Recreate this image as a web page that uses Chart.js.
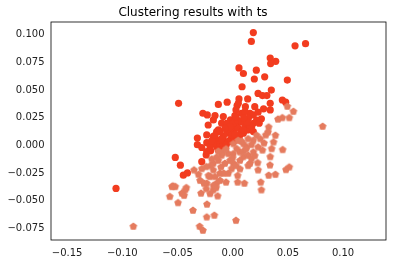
<!DOCTYPE html>
<html>
<head>
<meta charset="utf-8">
<script src="https://cdn.jsdelivr.net/npm/chart.js@4"></script>
<style>
  html, body { margin: 0; padding: 0; background: #fff; }
  #wrap { width: 393px; height: 264px; }
</style>
</head>
<body>
<div id="wrap"><canvas id="grafico"></canvas></div>
<script>
// cluster 1 (red circles)
var redX = [0.0187, 0.0169, 0.0565, 0.066, 0.034, 0.039, 0.0344, 0.0057, 0.0097, 0.0214, 0.0196, 0.029, 0.0495, 0.0085,
  0.035, 0.023, 0.027, 0.031, 0.045, 0.048, -0.049, -0.005, 0.0057, 0.0136, 0.034, -0.013, -0.027, -0.023, -0.016,
  0.004, 0.0115, 0.020, 0.034, 0.0157, -0.0085, -0.002, 0.026, -0.013, -0.0054, -0.0175, -0.010, 0.002, 0.0066, 0.0127,
  -0.032, -0.0235, -0.0175, -0.032, -0.0235, -0.028, -0.024, -0.052, -0.0474, -0.0447, -0.041, -0.1057,
  -0.0145, -0.0115, -0.0085, -0.0054, -0.0024, 0.0006, 0.0021, 0.0051, 0.0081, 0.0112, 0.0142, 0.0172, 0.0187,
  0.0006, -0.0024, -0.007, -0.010, -0.0145, -0.0175, -0.0205, -0.0054, -0.0145, 0.0036, 0.0066, 0.0097, 0.0127,
  0.0006, 0.0042, 0.0081, 0.0112, 0.0187, 0.0217, 0.0142, -0.0115, -0.0024, 0.0030, 0.0051, -0.0222, 0.0006,
  -0.0130, -0.0235, -0.0010, -0.0070, 0.0081, 0.0187,
  -0.0190, -0.0100, -0.0040, 0.0020, 0.0095, 0.0155, 0.0240, -0.0160, -0.0060, 0.0060, 0.0130, -0.0280, -0.0200,
  0.0030, 0.0100, 0.0230, 0.0280];
var redY = [0.102, 0.094, 0.090, 0.092, 0.079, 0.076, 0.074, 0.070, 0.065, 0.068, 0.060, 0.062, 0.059, 0.053,
  0.050, 0.047, 0.045, 0.045, 0.041, 0.039, 0.038, 0.039, 0.042, 0.042, 0.038, 0.037, 0.029, 0.0275, 0.027,
  0.036, 0.035, 0.035, 0.032, 0.029, 0.026, 0.023, 0.024, 0.014, 0.017, 0.023, 0.020, 0.027, 0.021, 0.023,
  0.0066, 0.0094, 0.008, 0.0006, 0.0024, -0.0148, -0.0087, -0.011, -0.018, -0.027, -0.025, -0.039,
  0.0048, 0.0018, 0.0078, 0.0109, 0.0124, 0.0139, 0.0169, 0.0154, 0.0124, 0.0169, 0.0139, 0.0169, 0.0199,
  0.0078, 0.0048, 0.0033, -0.0012, -0.0012, 0.0018, -0.0012, 0.0199, 0.0124, 0.0078, 0.0093, 0.0109, 0.0139,
  0.0199, 0.0229, 0.0290, 0.0305, 0.0275, 0.0229, 0.0245, 0.0124, 0.0169, 0.0320, 0.0380, 0.0184, 0.0033,
  -0.0042, -0.0057, 0.0093, 0.0154, 0.0215, 0.0124,
  0.0040, 0.0060, 0.0030, 0.0100, 0.0140, 0.0180, 0.0200, 0.0090, 0.0000, 0.0050, 0.0210, -0.0020, -0.0050,
  0.0260, 0.0250, 0.0300, 0.0330];

// cluster 2 (salmon pentagons)
var salmonX = [0.0815, 0.055, 0.0495, 0.0513, 0.045, 0.041, 0.0326, 0.032, 0.0387, 0.030, 0.0217, 0.025, 0.0187,
  0.037, 0.0284, 0.0453, 0.0353, 0.034, 0.0226, 0.0338, 0.0157, 0.0513, 0.0483, 0.0387, 0.0326, 0.023, 0.0254,
  0.026, 0.0106, 0.0045, 0.0045, -0.006, 0.003, -0.0115, -0.0145, -0.0175, -0.0136, -0.0235, -0.024, -0.0205,
  -0.0287, -0.031, -0.035, -0.042, -0.046, -0.054, -0.057, -0.0495, -0.036, -0.0233, -0.0235, -0.0166, -0.030,
  -0.027, -0.090, -0.004, -0.0106, -0.0175, 0.0006, 0.0066, 0.0097, 0.014, 0.0187, 0.023, 0.0127, 0.0066,
  0.0006, -0.0024, -0.007, -0.013, -0.019, -0.0175, -0.022, 0.0006, 0.005, 0.0097, 0.014, 0.0036, -0.004,
  -0.010, -0.0145, -0.001, 0.0066, 0.017, 0.014, -0.0296, -0.028, -0.043, -0.0175, -0.0115, -0.0205,
  -0.0260, -0.0160, -0.0090, 0.0100, 0.0170, -0.0520, -0.0550, -0.0440,
  -0.0060, 0.0000, 0.0080, 0.0120, -0.0130, -0.0200, -0.0080, 0.0030, 0.0200, 0.0270, -0.0240, -0.0150];
var salmonY = [0.0175, 0.031, 0.0356, 0.0253, 0.0253, 0.024, 0.0169, 0.0124, 0.0094, 0.0097, 0.0094, 0.0063, 0.0048,
  0.0033, 0.0024, -0.0036, -0.0027, -0.010, -0.0154, -0.0175, -0.016, -0.0193, -0.0217, -0.026, -0.0268, -0.022, -0.033,
  -0.040, -0.034, -0.033, -0.027, -0.033, -0.0676, -0.025, -0.034, -0.040, -0.0455, -0.034, -0.039, -0.0434,
  -0.043, -0.026, -0.022, -0.038, -0.043, -0.0365, -0.046, -0.0516, -0.0585, -0.053, -0.0646, -0.063, -0.073,
  -0.0766, -0.073, -0.025, -0.0193, -0.016, -0.016, -0.021, -0.010, -0.0087, -0.0057, -0.0012, -0.0012, -0.0057,
  -0.0072, -0.0133, -0.016, -0.0133, -0.012, -0.022, -0.027, 0.0018, 0.0048, 0.0018, 0.0063, -0.0027, -0.0072,
  -0.0087, -0.0103, -0.0208, -0.0133, -0.0118, -0.018, -0.0314, -0.0208, -0.040, -0.036, -0.0314, -0.0280,
  -0.0340, -0.0280, -0.0060, -0.0050, 0.0010, -0.0370, -0.0370, -0.0450,
  -0.0030, -0.0110, 0.0040, -0.0030, -0.0050, -0.0180, -0.0250, -0.0180, -0.0090, -0.0040, -0.0190, -0.0380];

var xTicks = [-0.15, -0.10, -0.05, 0.00, 0.05, 0.10];
var yTicks = [-0.075, -0.050, -0.025, 0.000, 0.025, 0.050, 0.075, 0.100];

function toPoints(xs, ys) {
    return xs.map(function(x, i) { return { x: x, y: ys[i] }; });
}

// pentagon marker, matplotlib 'p' style
function makePentagon(color, r) {
    var c = document.createElement('canvas');
    var size = Math.ceil(r * 2 + 2);
    c.width = size;
    c.height = size;
    var g = c.getContext('2d');
    var cx = size / 2, cy = size / 2 + 0.4;
    g.beginPath();
    for (var k = 0; k < 5; k++) {
        var a = -Math.PI / 2 + k * 2 * Math.PI / 5;
        var px = cx + r * Math.cos(a), py = cy + r * Math.sin(a);
        if (k === 0) g.moveTo(px, py); else g.lineTo(px, py);
    }
    g.closePath();
    g.fillStyle = color;
    g.fill();
    return c;
}

function fmt(v, d) {
    var s = Math.abs(v).toFixed(d);
    return (v < -1e-9 ? '\u2212' : '') + s;
}

// box around the plot area
var frame = {
    id: 'frame',
    afterDraw: function(chart) {
        var a = chart.chartArea, ctx = chart.ctx;
        ctx.save();
        ctx.strokeStyle = '#000';
        ctx.lineWidth = 0.8;
        ctx.strokeRect(a.left, a.top, a.right - a.left, a.bottom - a.top);
        ctx.restore();
    }
};

var ctx = document.getElementById('grafico').getContext('2d');
var myChart = new Chart(ctx, {
    type: 'scatter',
    data: {
        datasets: [{
            label: 'cluster 2',
            data: toPoints(salmonX, salmonY),
            pointStyle: makePentagon('#e57b5e', 4),
            order: 1
        }, {
            label: 'cluster 1',
            data: toPoints(redX, redY),
            backgroundColor: '#f23c1f',
            borderColor: '#f23c1f',
            borderWidth: 0,
            pointRadius: 3.6,
            order: 2
        }]
    },
    options: {
        responsive: true,
        maintainAspectRatio: false,
        animation: false,
        layout: { padding: { left: 0, right: 7, top: 0, bottom: 0 } },
        plugins: {
            legend: { display: false },
            tooltip: { enabled: false },
            title: {
                display: true,
                text: 'Clustering results with ts',
                color: '#000',
                font: { family: 'DejaVu Sans', size: 12, weight: 'normal' },
                padding: { top: 6, bottom: 1.6 }
            }
        },
        scales: {
            x: {
                type: 'linear',
                min: -0.1646,
                max: 0.1389,
                grid: { display: false, drawTicks: true, tickLength: 3.5, tickColor: '#000' },
                border: { display: false },
                ticks: {
                    color: '#222',
                    font: { family: 'DejaVu Sans', size: 10 },
                    padding: 4,
                    maxRotation: 0,
                    callback: function(v) { return fmt(v, 2); }
                },
                afterBuildTicks: function(s) { s.ticks = xTicks.map(function(v) { return { value: v }; }); },
                afterFit: function(s) { s.height = 24; }
            },
            y: {
                type: 'linear',
                min: -0.0857,
                max: 0.1116,
                grid: { display: false, drawTicks: true, tickLength: 3.5, tickColor: '#000' },
                border: { display: false },
                ticks: {
                    color: '#222',
                    font: { family: 'DejaVu Sans', size: 10 },
                    padding: 3,
                    callback: function(v) { return fmt(v, 3); }
                },
                afterBuildTicks: function(s) { s.ticks = yTicks.map(function(v) { return { value: v }; }); },
                afterFit: function(s) { s.width = 51; }
            }
        }
    },
    plugins: [frame]
});
</script>
</body>
</html>
